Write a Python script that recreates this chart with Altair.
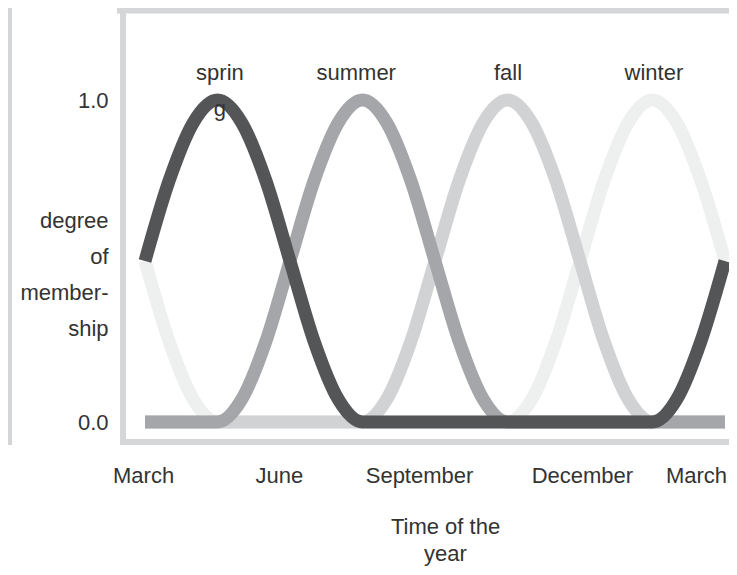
import altair as alt
import pandas as pd

# months since the start of March
months = [0, 0.5, 1, 1.5, 2, 2.5, 3, 3.5, 4, 4.5, 5, 5.5, 6, 6.5, 7, 7.5,
          8, 8.5, 9, 9.5, 10, 10.5, 11, 11.5, 12]

spring = [0.50, 0.75, 0.93, 1.00, 0.93, 0.75, 0.50, 0.25, 0.07, 0, 0, 0, 0,
          0, 0, 0, 0, 0, 0, 0, 0, 0, 0.07, 0.25, 0.50]
summer = [0, 0, 0, 0, 0.07, 0.25, 0.50, 0.75, 0.93, 1.00, 0.93, 0.75, 0.50,
          0.25, 0.07, 0, 0, 0, 0, 0, 0, 0, 0, 0, 0]
fall = [0, 0, 0, 0, 0, 0, 0, 0, 0, 0, 0.07, 0.25, 0.50, 0.75, 0.93, 1.00,
        0.93, 0.75, 0.50, 0.25, 0.07, 0, 0, 0, 0]
winter = [0.50, 0.25, 0.07, 0, 0, 0, 0, 0, 0, 0, 0, 0, 0, 0, 0, 0, 0.07,
          0.25, 0.50, 0.75, 0.93, 1.00, 0.93, 0.75, 0.50]

season_names = ["spring", "summer", "fall", "winter"]
season_colors = ["#545557", "#a5a6a9", "#d1d2d4", "#eef0ef"]
label_text = ["sprin\ng", "summer", "fall", "winter"]
label_x = [1.55, 4.37, 7.51, 10.53]
label_y = [1.062, 1.062, 1.062, 1.062]

tick_names = ["March", "June", "September", "December", "March"]
tick_pos = [-0.04, 2.77, 5.67, 9.04, 11.40]
y_ticks = [0.0, 1.0]

FONT = "Liberation Sans, Arial, sans-serif"
FS = 22
TEXT = "#333333"
FRAME = "#d5d6d8"
W, H = 606, 432

rows = []
for name, vals in zip(season_names, [spring, summer, fall, winter]):
    for m, v in zip(months, vals):
        rows.append({"month": m, "value": v, "season": name})
df = pd.DataFrame(rows)
labels_df = pd.DataFrame({"text": label_text, "x": label_x, "y": label_y})

expr = "'" + tick_names[-1] + "'"
for pos, name in reversed(list(zip(tick_pos[:-1], tick_names[:-1]))):
    expr = f"abs(datum.value - ({pos})) < 0.01 ? '{name}' : " + expr

x_scale = alt.Scale(domain=[-0.455, 12.083], nice=False, zero=False)
y_scale = alt.Scale(domain=[-0.0621, 1.2795], nice=False, zero=False)

x_axis = alt.Axis(
    values=tick_pos, labelExpr=expr, title=["Time of the", "year"],
    titleX=322, titleY=91, titleAlign="center", titleBaseline="alphabetic",
    titleLineHeight=27, titleFontSize=FS, titleFontWeight="normal",
    titleFont=FONT, titleColor=TEXT, labelFont=FONT, labelColor=TEXT,
    labelFontSize=FS, labelPadding=23, ticks=False, domain=False, grid=False,
    labelFlush=False, labelOverlap=False, labelAlign="center",
)
y_axis = alt.Axis(
    values=y_ticks, format=".1f", title=["degree", "of", "member-", "ship"],
    titleAngle=0, titleAlign="right", titleX=-15, titleY=217,
    titleBaseline="alphabetic", titleLineHeight=36, titleFontSize=FS,
    titleFontWeight="normal", titleFont=FONT, titleColor=TEXT,
    labelFont=FONT, labelColor=TEXT, labelFontSize=FS, labelPadding=15,
    ticks=False, domain=False, grid=False, labelBaseline="middle",
)

one = alt.Data(values=[{}])
frame_top = alt.Chart(one).mark_rule(color=FRAME, strokeWidth=7).encode(
    x=alt.value(-6), x2=alt.value(W + 10), y=alt.value(0))
frame_left = alt.Chart(one).mark_rule(color=FRAME, strokeWidth=6).encode(
    x=alt.value(0), y=alt.value(-4), y2=alt.value(H + 3))
frame_bottom = alt.Chart(one).mark_rule(color=FRAME, strokeWidth=6).encode(
    x=alt.value(-3), x2=alt.value(W + 10), y=alt.value(H))
outer_left = alt.Chart(one).mark_rule(color=FRAME, strokeWidth=4).encode(
    x=alt.value(-113), y=alt.value(-10), y2=alt.value(H + 3))

layers = [frame_top, frame_left, frame_bottom, outer_left]
for name in ["winter", "fall", "summer", "spring"]:
    col = season_colors[season_names.index(name)]
    layers.append(
        alt.Chart(df).transform_filter(alt.datum.season == name)
        .mark_line(color=col, strokeWidth=13, interpolate="monotone", strokeCap="butt")
        .encode(
            x=alt.X("month:Q", scale=x_scale, axis=x_axis),
            y=alt.Y("value:Q", scale=y_scale, axis=y_axis),
        )
    )

labels = alt.Chart(labels_df).mark_text(
    font=FONT, fontSize=FS, color=TEXT, align="center", baseline="alphabetic",
    lineBreak="\n", lineHeight=36,
).encode(
    x=alt.X("x:Q", scale=x_scale),
    y=alt.Y("y:Q", scale=y_scale),
    text="text:N",
)
layers.append(labels)

chart = alt.layer(*layers).properties(
    width=W, height=H,
    autosize=alt.AutoSizeParams(type="none"),
    padding={"left": 115, "top": 2, "right": 0, "bottom": 124},
    background="white",
).configure_view(stroke=None)

chart.save("out.html", embed_options={"renderer": "svg", "actions": False})
